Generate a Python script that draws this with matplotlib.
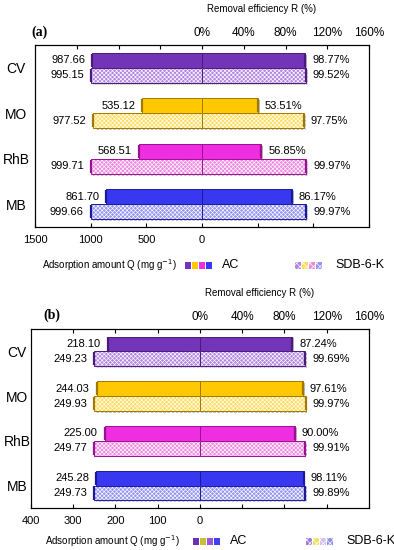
import matplotlib

matplotlib.use("Agg")
import matplotlib.patheffects as pe
import matplotlib.pyplot as plt
import numpy as np
from matplotlib.patches import Rectangle

plt.rcParams["font.family"] = ["Liberation Sans", "DejaVu Sans"]
plt.rcParams["hatch.linewidth"] = 0.45

FIG_W, FIG_H, DPI = 394, 550, 100

dyes = ["CV", "MO", "RhB", "MB"]

# panel (a)
q_ac_a = [987.66, 535.12, 568.51, 861.70]
q_sdb_a = [995.15, 977.52, 999.71, 999.66]
r_ac_a = [98.77, 53.51, 56.85, 86.17]
r_sdb_a = [99.52, 97.75, 99.97, 99.97]

# panel (b)
q_ac_b = [218.10, 244.03, 225.00, 245.28]
q_sdb_b = [249.23, 249.93, 249.77, 249.73]
r_ac_b = [87.24, 97.61, 90.00, 98.11]
r_sdb_b = [99.69, 99.97, 99.91, 99.89]

ac_colors = ["#7434b8", "#ffc800", "#ee2ee0", "#3838f0"]
sdb_colors = ["#b286e2", "#ffdc5c", "#f088e2", "#9494f2"]
dark_colors = ["#4a1a78", "#a07800", "#9a1090", "#1a1a98"]

legend_ac_a = ["#7434b8", "#ffc800", "#ee2ee0", "#3838f0"]
legend_sdb_a = ["#b286e2", "#ffdc5c", "#f088e2", "#9494f2"]
legend_ac_b = ["#6a30b0", "#c8c030", "#9a55e0", "#4040f0"]
legend_sdb_b = ["#a47ada", "#eee060", "#d8bcf0", "#9090ee"]


def fx(px):
    return px / FIG_W


def fy(py):
    return 1 - py / FIG_H


def draw_panel(fig, box, q_ac, q_sdb, r_ac, r_sdb, q_lim, q_step, layout, legend_ac, legend_sdb):
    """Draw one back-to-back bar panel; box is (left, top, right, bottom) in pixels."""
    left, top, right, bottom = box
    ax = fig.add_axes([fx(left), fy(bottom), (right - left) / FIG_W, (bottom - top) / FIG_H])
    ax_r = ax.twiny()

    y = np.arange(len(dyes))
    h = 0.33
    shadow = [pe.SimplePatchShadow(offset=(1.3, -1.3), shadow_rgbFace="0.45", alpha=0.45), pe.Normal()]

    for axis, ac_vals, sdb_vals, sign in (
        (ax, np.asarray(q_ac), np.asarray(q_sdb), -1),
        (ax_r, np.asarray(r_ac), np.asarray(r_sdb), 1),
    ):
        bars = axis.barh(y - h / 2, sign * ac_vals, height=h, color=ac_colors,
                         edgecolor=dark_colors, linewidth=0.7)
        for b in bars:
            b.set_path_effects(shadow)
        bars = axis.barh(y + h / 2, sign * sdb_vals, height=h, color=sdb_colors,
                         edgecolor="white", linewidth=0, hatch="xxxxxxxx")
        for b in bars:
            b.set_path_effects(shadow)
        axis.barh(y + h / 2, sign * sdb_vals, height=h, fill=False,
                  edgecolor=dark_colors, linewidth=0.7)
        axis.scatter(sign * ac_vals, y - h / 2, marker="|", s=90, c=dark_colors, linewidths=1.6, zorder=3)
        axis.scatter(sign * sdb_vals, y + h / 2, marker="|", s=90, c=dark_colors, linewidths=1.6, zorder=3)

    for yy, qa, qs in zip(y, q_ac, q_sdb):
        ax.annotate(f"{qa:.2f}", (-qa, yy - h / 2), xytext=(-5, 0), textcoords="offset points",
                    ha="right", va="center", fontsize=8)
        ax.annotate(f"{qs:.2f}", (-qs, yy + h / 2), xytext=(-5, 0), textcoords="offset points",
                    ha="right", va="center", fontsize=8)
    for yy, ra, rs in zip(y, r_ac, r_sdb):
        ax_r.annotate(f"{ra:.2f}%", (ra, yy - h / 2), xytext=(5, 0), textcoords="offset points",
                      ha="left", va="center", fontsize=8)
        ax_r.annotate(f"{rs:.2f}%", (rs, yy + h / 2), xytext=(5, 0), textcoords="offset points",
                      ha="left", va="center", fontsize=8)

    ax.set_xlim(-q_lim, q_lim)
    ax.set_ylim(len(dyes) - 0.5, -0.5)
    q_ticks = np.arange(-q_lim, q_lim + 1, q_step)
    ax.set_xticks(q_ticks, [f"{abs(t):.0f}" if t <= 0 else "" for t in q_ticks])
    ax.tick_params(axis="x", direction="in", length=3, pad=6, labelsize=8)
    ax.set_yticks(y, dyes)
    ax.tick_params(axis="y", length=0, pad=layout["ypad"], labelsize=10)
    for lbl in ax.get_yticklabels():
        lbl.set_horizontalalignment("center")

    ax_r.set_xlim(-160, 160)
    r_ticks = np.arange(-120, 161, 40)
    ax_r.set_xticks(r_ticks, [f"{t}%" if t >= 0 else "" for t in r_ticks])
    ax_r.tick_params(axis="x", direction="in", length=3, pad=4, labelsize=8.5)

    for spine in list(ax.spines.values()) + list(ax_r.spines.values()):
        spine.set_linewidth(0.8)

    fig.text(fx(layout["rlabel"][0]), fy(layout["rlabel"][1]), "Removal efficiency R (%)",
             ha="center", va="center", fontsize=7)
    fig.text(fx(layout["tag"][0]), fy(layout["tag"][1]), layout["name"], ha="left", va="center",
             fontsize=10, fontweight="bold", family=["Liberation Serif", "DejaVu Serif"])

    ly = layout["legend_y"]
    fig.text(fx(layout["qlabel_x"]), fy(ly), "Adsorption amount Q (mg g$^{-1}$)",
             ha="left", va="center", fontsize=7)
    for x0, colors, hatch in ((layout["ac_x"], legend_ac, None), (layout["sdb_x"], legend_sdb, "xxxxx")):
        for i, c in enumerate(colors):
            sq = Rectangle((fx(x0 + i * 7), fy(ly + 3.5)), 6 / FIG_W, 7 / FIG_H,
                           transform=fig.transFigure, facecolor=c,
                           edgecolor="white" if hatch else c, linewidth=0, hatch=hatch)
            fig.add_artist(sq)
    fig.text(fx(layout["ac_x"] + 37), fy(ly), "AC", ha="left", va="center", fontsize=9)
    fig.text(fx(layout["sdb_x"] + 40), fy(ly), "SDB-6-K", ha="left", va="center", fontsize=9)
    return ax


fig = plt.figure(figsize=(FIG_W / DPI, FIG_H / DPI), dpi=DPI)

draw_panel(
    fig, (35, 45, 369, 227), q_ac_a, q_sdb_a, r_ac_a, r_sdb_a, 1500, 500,
    {"ypad": 13.7, "rlabel": (262, 9), "tag": (31, 32), "name": "(a)",
     "legend_y": 265, "qlabel_x": 42, "ac_x": 185, "sdb_x": 295},
    legend_ac_a, legend_sdb_a,
)
draw_panel(
    fig, (30.7, 329, 369, 508), q_ac_b, q_sdb_b, r_ac_b, r_sdb_b, 400, 100,
    {"ypad": 9.9, "rlabel": (260, 293), "tag": (43, 315), "name": "(b)",
     "legend_y": 541, "qlabel_x": 45, "ac_x": 193, "sdb_x": 306},
    legend_ac_b, legend_sdb_b,
)

fig.savefig("out.png", dpi=DPI)
plt.close(fig)
